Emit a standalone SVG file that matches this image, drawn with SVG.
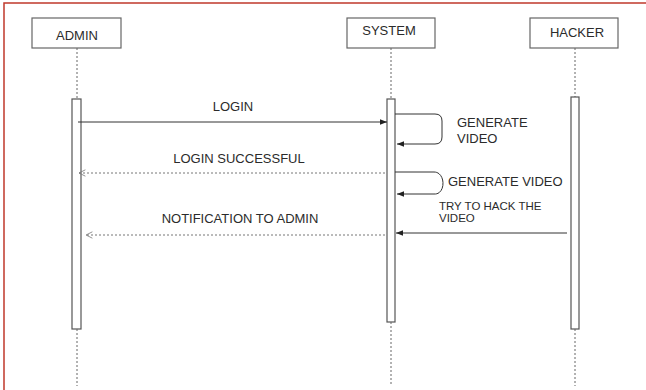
<svg xmlns="http://www.w3.org/2000/svg" width="646" height="390" viewBox="0 0 646 390">
<style>
text{font-family:"Liberation Sans",Arial,sans-serif;fill:#2b2b2b;font-size:13px}
.box{fill:#fff;stroke:#666;stroke-width:1.2}
.act{fill:#fff;stroke:#555;stroke-width:1.2}
.life{stroke:#666;stroke-width:1;stroke-dasharray:2,2;fill:none}
.msg{stroke:#333;stroke-width:1;fill:none}
.ret{stroke:#777;stroke-width:1;stroke-dasharray:2,2;fill:none}
.small{font-size:11.5px}
</style>
<defs>
<marker id="filled" viewBox="0 0 10 10" refX="10" refY="5" markerWidth="7" markerHeight="7" orient="auto" markerUnits="userSpaceOnUse">
<path d="M0,1 L10,5 L0,9 z" fill="#222"/>
</marker>
<marker id="open" viewBox="0 0 10 10" refX="9" refY="5" markerWidth="8" markerHeight="8" orient="auto" markerUnits="userSpaceOnUse">
<path d="M1,1 L9,5 L1,9" fill="none" stroke="#777" stroke-width="1"/>
</marker>
</defs>
<rect x="0" y="0" width="646" height="390" fill="#fff"/>
<path d="M4,390 V3 H646" fill="none" stroke="#c0392b" stroke-width="1.5"/>

<g id="admin">
<rect class="box" x="32" y="18" width="89" height="30"/>
<text x="77" y="40" text-anchor="middle">ADMIN</text>
<line class="life" x1="77" y1="48" x2="77" y2="99"/>
<rect class="act" x="72" y="99" width="9" height="230"/>
<line class="life" x1="77" y1="329" x2="77" y2="386"/>
</g>

<g id="system">
<rect class="box" x="347" y="18" width="88" height="30"/>
<text x="389" y="35" text-anchor="middle">SYSTEM</text>
<line class="life" x1="391" y1="48" x2="391" y2="99"/>
<rect class="act" x="387" y="99" width="8" height="223"/>
<line class="life" x1="391" y1="322" x2="391" y2="386"/>
</g>

<g id="hacker">
<rect class="box" x="530" y="18" width="88" height="30"/>
<text x="577" y="37" text-anchor="middle">HACKER</text>
<line class="life" x1="575" y1="48" x2="575" y2="97"/>
<rect class="act" x="571" y="97" width="8" height="232"/>
<line class="life" x1="575" y1="329" x2="575" y2="386"/>
</g>

<g id="connectors">
<line class="msg" x1="78" y1="122" x2="387" y2="122" marker-end="url(#filled)"/>
<text x="233" y="111" text-anchor="middle">LOGIN</text>

<path class="msg" d="M395,114 H435 Q442,114 442,121 V137 Q442,144 435,144 H397" marker-end="url(#filled)"/>
<text x="457" y="127">GENERATE</text>
<text x="457" y="143">VIDEO</text>

<line class="ret" x1="385" y1="173" x2="79" y2="173" marker-end="url(#open)"/>
<text x="239" y="163" text-anchor="middle">LOGIN SUCCESSFUL</text>

<path class="msg" d="M395,172 H434 C446,172 446,195 434,194 H397" marker-end="url(#filled)"/>
<text x="448" y="186">GENERATE VIDEO</text>

<line class="msg" x1="567" y1="233" x2="396" y2="233" marker-end="url(#filled)"/>
<text class="small" x="439" y="210">TRY TO HACK THE</text>
<text class="small" x="439" y="222">VIDEO</text>

<line class="ret" x1="385" y1="235" x2="86" y2="235" marker-end="url(#open)"/>
<text x="240" y="223" text-anchor="middle">NOTIFICATION TO ADMIN</text>
</g>
</svg>
